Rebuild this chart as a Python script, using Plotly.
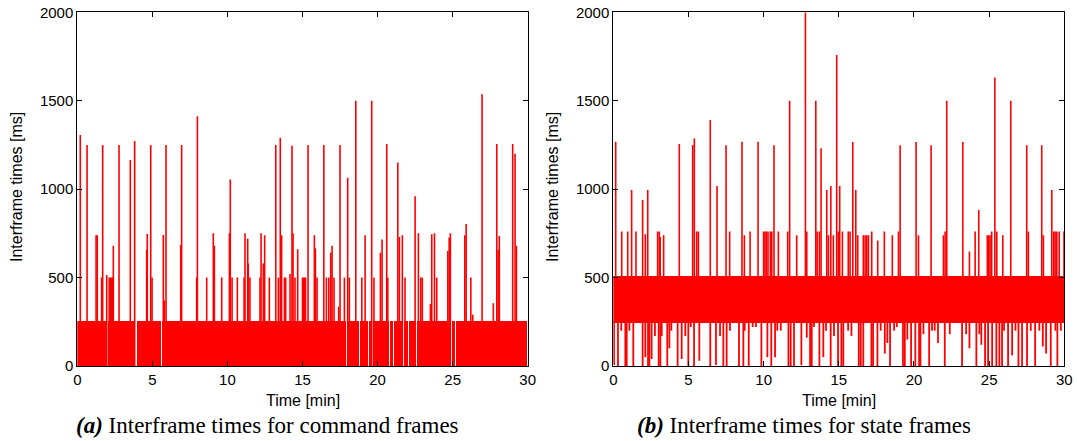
import plotly.graph_objects as go

# ---------------- data ----------------
# (a) command frames: spikes above the dense 0..255 ms band
cmd_spike_t = [0.20, 0.65, 1.25, 1.33, 1.62, 1.69, 1.96, 2.13, 2.20, 2.28, 2.36, 2.40, 2.78, 3.53, 3.82,
               4.62, 4.66, 4.89, 4.98, 5.73, 5.80, 5.91, 6.89, 6.95, 7.95, 8.00, 8.62, 9.06, 9.13, 9.62,
               10.13, 10.19, 10.31, 10.66, 11.11, 11.17, 11.35, 11.39, 11.50, 12.17, 12.24, 12.39, 12.48,
               12.79, 13.22, 13.39, 13.52, 13.61, 13.80, 13.88, 14.17, 14.30, 14.37, 14.50, 14.68, 15.00,
               15.07, 15.13, 15.20, 15.37, 15.79, 15.86, 15.97, 16.42, 16.59, 16.75, 16.88, 16.97, 17.10,
               17.41, 17.50, 17.79, 18.01, 18.12, 18.55, 18.95, 19.17, 19.61, 19.76, 20.19, 20.30, 20.61,
               20.68, 21.35, 21.45, 21.65, 21.83, 22.50, 22.72, 22.88, 22.98, 23.52, 23.61, 23.79, 23.94,
               24.68, 24.77, 24.85, 25.81, 25.90, 26.21, 26.34, 26.96, 27.71, 27.94, 28.03, 28.11, 29.00,
               29.16, 29.25]
cmd_spike_ms = [1306, 1250, 740, 740, 500, 1250, 515, 500, 500, 500, 500, 680, 1250, 1165, 1272,
                656, 747, 1250, 500, 741, 370, 1250, 684, 1250, 500, 1412, 500, 750, 680, 500,
                750, 1055, 500, 500, 500, 750, 720, 580, 500, 500, 750, 580, 740,
                500, 1250, 500, 1290, 740, 500, 500, 520, 1245, 750, 500, 660, 500,
                500, 500, 500, 1250, 740, 665, 500, 1250, 500, 500, 640, 680, 500,
                335, 1250, 500, 1065, 500, 1500, 500, 740, 1500, 500, 640, 715, 1255,
                500, 1150, 730, 740, 500, 960, 750, 500, 500, 350, 745, 750, 500,
                650, 726, 750, 740, 803, 500, 290, 1536, 355, 1255, 656, 735, 1255,
                1200, 680]
cmd_band_top_ms = 255
cmd_gap_t = [1.82, 2.00, 3.93, 5.60, 17.95, 18.79, 19.39, 19.68, 20.79, 21.10, 21.45, 21.72,
             22.05, 22.61, 24.94, 25.20]

# (b) state frames: dense band 240..505 ms, spikes above it and drops below it
state_band_low_ms = 240
state_band_high_ms = 505
state_spike_t = [0.16, 0.56, 0.96, 1.22, 1.51, 1.95, 2.13, 2.29, 2.95, 3.06, 3.12, 3.35, 4.39, 5.28, 5.39,
                 5.55, 5.66, 6.45, 6.90, 7.50, 7.74, 8.56, 8.72, 9.10, 9.63, 10.00, 10.09, 10.18, 10.29,
                 10.45, 10.54, 10.69, 10.98, 11.60, 11.73, 12.20, 12.78, 12.87, 13.47, 13.56, 13.71, 13.82,
                 14.20, 14.31, 14.47, 14.64, 14.86, 14.97, 15.06, 15.24, 15.63, 15.75, 15.93, 16.13, 16.26,
                 16.63, 16.75, 16.86, 16.97, 17.19, 17.59, 18.03, 18.56, 18.97, 19.08, 20.14, 20.30, 21.14,
                 21.96, 22.07, 22.18, 23.25, 23.69, 24.07, 24.31, 24.88, 24.97, 25.06, 25.17, 25.38, 25.51,
                 25.91, 26.44, 27.50, 27.61, 28.50, 28.61, 29.17, 29.30, 29.39, 29.50, 29.66, 29.98]
state_spike_ms = [1268, 760, 760, 995, 760, 939, 745, 995, 760, 760, 730, 740, 1255, 1250, 1287,
                  760, 760, 1391, 1018, 1248, 760, 1268, 740, 760, 1268, 760, 760, 760, 760,
                  760, 760, 1248, 760, 760, 1500, 740, 2000, 760, 1500, 760, 760, 1231,
                  995, 740, 1018, 740, 1759, 760, 1018, 760, 760, 760, 1267, 995, 740,
                  740, 740, 740, 740, 760, 709, 760, 740, 760, 1248, 1267, 740, 1248,
                  740, 760, 1500, 1267, 647, 760, 882, 740, 740, 740, 760, 1632, 760,
                  740, 1500, 1248, 760, 1248, 740, 995, 760, 760, 760, 760, 760]
state_drop_t = [0.05, 0.31, 0.53, 0.80, 0.89, 1.07, 1.33, 1.95, 2.13, 2.31, 2.40, 2.55, 2.77, 3.02, 3.13,
                3.22, 3.59, 3.73, 3.86, 4.28, 4.55, 4.79, 4.99, 5.15, 5.37, 5.72, 6.45, 6.83, 7.10, 7.32,
                7.54, 7.76, 8.36, 8.65, 8.74, 9.01, 9.27, 9.49, 9.85, 10.25, 10.51, 10.76, 10.91, 11.14,
                11.65, 11.80, 12.02, 12.51, 12.87, 13.09, 13.20, 13.35, 13.71, 13.97, 14.15, 14.46, 14.68,
                14.95, 15.17, 15.30, 15.62, 15.84, 16.33, 16.46, 16.63, 17.17, 17.28, 17.57, 17.79, 18.06,
                18.23, 18.41, 18.68, 18.86, 19.27, 19.39, 19.56, 19.81, 20.09, 20.34, 20.43, 20.63, 21.01,
                21.20, 21.38, 21.60, 22.05, 22.38, 23.20, 23.47, 23.69, 24.15, 24.35, 24.48, 24.73, 24.93,
                25.20, 25.48, 25.68, 25.86, 25.99, 26.26, 26.53, 26.75, 26.95, 27.19, 27.52, 27.77, 28.06,
                28.34, 28.57, 28.79, 29.10, 29.41, 29.54, 29.77]
state_drop_ms = [5, 0, 200, 0, 0, 200, 0, 0, 50, 0, 0, 40, 170, 0, 0,
                 170, 0, 100, 200, 0, 40, 170, 0, 220, 0, 30, 0, 5, 170, 0,
                 0, 200, 0, 0, 200, 0, 220, 220, 0, 50, 0, 50, 200, 200,
                 0, 0, 0, 5, 160, 0, 0, 220, 0, 50, 200, 0, 170,
                 0, 0, 0, 200, 170, 0, 0, 0, 0, 0, 0, 200, 70,
                 130, 0, 200, 220, 0, 0, 150, 0, 0, 0, 0, 180, 0,
                 200, 200, 130, 0, 180, 0, 180, 100, 0, 180, 120, 0, 0,
                 0, 0, 0, 0, 200, 0, 60, 200, 0, 0, 0, 200, 0,
                 200, 110, 70, 0, 200, 0, 200]

x_ticks = [0, 5, 10, 15, 20, 25, 30]
y_ticks = [0, 500, 1000, 1500, 2000]
t_range = [0, 30]
ms_range = [0, 2000]

RED = "#ff0000"


def vlines(ts, lows, highs):
    xs, ys = [], []
    for t, lo, hi in zip(ts, lows, highs):
        xs += [t, t, None]
        ys += [lo, hi, None]
    return xs, ys


fig = go.Figure()

# ---- (a) band as segments between the white gaps ----
gap_w = 0.07
edges = [t_range[0]] + cmd_gap_t + [t_range[1]]
seg_c, seg_w = [], []
for i in range(len(edges) - 1):
    a = edges[i] + (gap_w / 2 if i > 0 else 0)
    b = edges[i + 1] - (gap_w / 2 if i < len(edges) - 2 else 0)
    seg_c.append((a + b) / 2)
    seg_w.append(b - a)
fig.add_trace(go.Bar(x=seg_c, y=[cmd_band_top_ms] * len(seg_c), width=seg_w,
                     marker=dict(color=RED, line=dict(width=0)), xaxis="x", yaxis="y",
                     showlegend=False, hoverinfo="skip"))
sx, sy = vlines(cmd_spike_t, [0] * len(cmd_spike_t), cmd_spike_ms)
fig.add_trace(go.Scatter(x=sx, y=sy, mode="lines", line=dict(color=RED, width=1.6),
                         xaxis="x", yaxis="y", showlegend=False, hoverinfo="skip"))

# ---- (b) ----
fig.add_trace(go.Bar(x=[sum(t_range) / 2], y=[state_band_high_ms - state_band_low_ms],
                     base=[state_band_low_ms], width=[t_range[1] - t_range[0]],
                     marker=dict(color=RED, line=dict(width=0)), xaxis="x2", yaxis="y2",
                     showlegend=False, hoverinfo="skip"))
dx, dy = vlines(state_drop_t, state_drop_ms, [state_band_low_ms + 10] * len(state_drop_t))
fig.add_trace(go.Scatter(x=dx, y=dy, mode="lines", line=dict(color=RED, width=1.8),
                         xaxis="x2", yaxis="y2", showlegend=False, hoverinfo="skip"))
px_, py_ = vlines(state_spike_t, [state_band_high_ms - 10] * len(state_spike_t), state_spike_ms)
fig.add_trace(go.Scatter(x=px_, y=py_, mode="lines", line=dict(color=RED, width=1.6),
                         xaxis="x2", yaxis="y2", showlegend=False, hoverinfo="skip"))

W, H = 1077, 441
ax_common = dict(showline=True, linecolor="black", linewidth=1, mirror="allticks",
                 ticks="inside", ticklen=5, tickcolor="black", showgrid=False, zeroline=False,
                 tickfont=dict(family="Liberation Sans", size=15, color="black"), automargin=False)
ydom = [1 - 366 / H, 1 - 12.3 / H]
fig.update_layout(
    width=W, height=H, margin=dict(l=0, r=0, t=0, b=0),
    plot_bgcolor="white", paper_bgcolor="white", bargap=0,
    xaxis=dict(domain=[77.3 / W, 527.7 / W], range=t_range, tickvals=x_ticks, anchor="y", **ax_common),
    yaxis=dict(domain=ydom, range=ms_range, tickvals=y_ticks, anchor="x", **ax_common),
    xaxis2=dict(domain=[613.3 / W, 1064.3 / W], range=t_range, tickvals=x_ticks, anchor="y2", **ax_common),
    yaxis2=dict(domain=ydom, range=ms_range, tickvals=y_ticks, anchor="x2", **ax_common),
)

lab_font = dict(family="Liberation Sans", size=16, color="black")
cap_font = dict(family="Liberation Serif", size=23, color="black")
ann = [
    dict(text="Interframe times [ms]", x=17 / W, y=1 - 187 / H, textangle=-90, font=lab_font),
    dict(text="Interframe times [ms]", x=553 / W, y=1 - 187 / H, textangle=-90, font=lab_font),
    dict(text="Time [min]", x=302.5 / W, y=1 - 400 / H, font=lab_font),
    dict(text="Time [min]", x=838.8 / W, y=1 - 400 / H, font=lab_font),
    dict(text="<b><i>(a)</i></b> Interframe times for command frames", x=267.5 / W, y=1 - 425 / H, font=cap_font),
    dict(text="<b><i>(b)</i></b> Interframe times for state frames", x=804 / W, y=1 - 425 / H, font=cap_font),
]
for a in ann:
    a.update(xref="paper", yref="paper", showarrow=False, xanchor="center", yanchor="middle")
fig.update_layout(annotations=ann)

fig.write_html("out.html")
